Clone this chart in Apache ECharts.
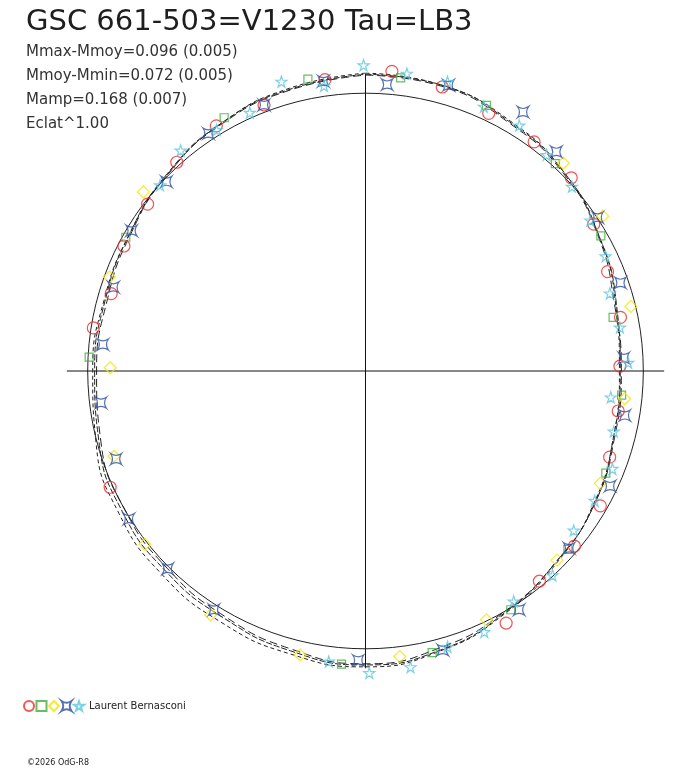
<!DOCTYPE html>
<html>
<head>
<meta charset="utf-8">
<script src="https://cdn.jsdelivr.net/npm/echarts@6/dist/echarts.min.js"></script>
<style>
html, body { margin: 0; padding: 0; background: #fff; }
#chart { width: 688px; height: 768px; }
</style>
</head>
<body>
<div id="chart"></div>
<script>
// phase (0..1, clockwise from top) and relative flux (mean = 1)
var redPhase = [0.014,0.042,0.071,0.101,0.130,0.159,0.188,0.217,0.247,0.275,0.304,0.333,0.361,0.390,0.419,0.682,0.775,0.797,0.826,0.854,0.883,0.913,0.942,0.978];
var redFlux  = [1.083,1.059,1.028,1.024,1.016,0.977,0.942,0.938,0.916,0.921,0.932,0.975,0.981,0.982,1.039,1.010,0.992,0.957,0.979,0.988,1.013,1.033,1.025,1.059];

var greenPhase = [0.019,0.068,0.118,0.167,0.216,0.265,0.314,0.365,0.413,0.463,0.513,0.758,0.831,0.919,0.969];
var greenFlux  = [1.063,1.051,1.012,0.977,0.912,0.926,0.940,0.971,1.006,1.042,1.059,0.996,0.988,1.044,1.071];

var yellowPhase = [0.121,0.158,0.212,0.267,0.321,0.374,0.428,0.481,0.536,0.590,0.644,0.698,0.752,0.806,0.858];
var yellowFlux  = [1.033,1.020,0.983,0.938,0.937,0.969,0.996,1.035,1.049,1.040,1.010,0.956,0.919,0.982,1.027];

var bluePhase = [0.012,0.045,0.087,0.114,0.157,0.197,0.242,0.277,0.320,0.364,0.409,0.457,0.504,0.590,0.625,0.661,0.696,0.731,0.766,0.801,0.836,0.871,0.907,0.942,0.977];
var blueFlux  = [1.034,1.071,1.091,1.046,1.002,0.971,0.931,0.947,0.973,0.972,1.022,1.042,1.042,1.018,1.007,1.005,0.952,0.959,0.950,0.956,0.982,0.989,1.025,1.025,1.054];

var cyanPhase = [0.022,0.044,0.067,0.089,0.111,0.134,0.156,0.179,0.201,0.223,0.245,0.267,0.288,0.310,0.332,0.354,0.382,0.409,0.432,0.454,0.476,0.498,0.520,0.867,0.889,0.912,0.933,0.955,0.977,0.999];
var cyanFlux  = [1.081,1.082,1.043,1.043,1.015,0.996,0.974,0.958,0.923,0.929,0.946,0.888,0.920,0.956,0.948,0.944,0.997,0.986,1.032,1.036,1.078,1.087,1.054,0.997,1.036,1.020,1.019,1.085,1.037,1.101];

// fitted curves, read every 15 degrees of phase
var fitDeg  = [0,15,30,45,60,75,90,105,120,135,150,165,180,195,210,225,240,255,270,285,300,315,330,345,360];
var fitMain = [1.068,1.065,1.036,1.011,0.971,0.935,0.917,0.924,0.953,0.971,1.004,1.040,1.058,1.043,1.025,1.018,1.011,0.993,0.975,0.971,0.982,1.007,1.032,1.050,1.068];
var fitHigh = [1.072,1.065,1.040,1.011,0.971,0.932,0.914,0.924,0.950,0.975,1.007,1.043,1.065,1.054,1.043,1.036,1.025,1.004,0.982,0.975,0.982,1.004,1.032,1.054,1.072];
var fitLow  = [1.065,1.061,1.032,1.007,0.968,0.928,0.921,0.928,0.953,0.971,1.000,1.032,1.054,1.036,1.018,1.007,1.000,0.986,0.968,0.964,0.978,1.004,1.029,1.047,1.065];

var titleText = 'GSC 661-503=V1230 Tau=LB3';
var infoLines = ['Mmax-Mmoy=0.096 (0.005)', 'Mmoy-Mmin=0.072 (0.005)', 'Mamp=0.168 (0.007)', 'Eclat^1.00'];
var observer = 'Laurent Bernasconi';

var chart = echarts.init(document.getElementById('chart'), null, {width: 688, height: 768});

function pts(phase, flux) {
    var out = [];
    for (var i = 0; i < phase.length; i++) out.push([flux[i], phase[i]]);
    return out;
}
function curve(vals) {
    var out = [];
    for (var i = 0; i < fitDeg.length; i++) out.push([vals[i], fitDeg[i] / 360]);
    return out;
}

var STAR4 = 'path://M0,0 Q5,3.5 10,0 Q6.5,5 10,10 Q5,6.5 0,10 Q3.5,5 0,0 Z';
var STAR5 = 'path://M5,0 L6.18,3.62 L10,3.62 L6.91,5.86 L8.09,9.5 L5,7.25 L1.91,9.5 L3.09,5.86 L0,3.62 L3.82,3.62 Z';

function marks(name, phase, flux, symbol, size, color) {
    return {
        name: name, type: 'scatter', coordinateSystem: 'polar',
        symbol: symbol, symbolSize: size, z: 5, silent: true,
        itemStyle: {color: 'rgba(0,0,0,0)', borderColor: color, borderWidth: 1.2},
        data: pts(phase, flux)
    };
}
function fitLine(vals, dash) {
    return {
        type: 'line', coordinateSystem: 'polar', smooth: true, symbol: 'none', silent: true, z: 3,
        lineStyle: {color: '#222', width: 1, type: dash},
        data: curve(vals)
    };
}

var txt = [];
txt.push({type: 'text', x: 26, y: 22.5, style: {text: titleText, font: '29px "DejaVu Sans"', fill: '#1e1e1e', textVerticalAlign: 'middle'}});
for (var k = 0; k < infoLines.length; k++) {
    txt.push({type: 'text', x: 26, y: 51.7 + k * 24.3, style: {text: infoLines[k], font: '15px "DejaVu Sans"', fill: '#333', textVerticalAlign: 'middle'}});
}
txt.push({type: 'text', x: 27, y: 763, style: {text: '©2026 OdG-R8', font: '8px "DejaVu Sans"', fill: '#222', textVerticalAlign: 'middle'}});

var option = {
    backgroundColor: '#fff',
    animation: false,
    polar: {center: [365.5, 371], radius: 555.6},
    angleAxis: {
        type: 'value', min: 0, max: 1, startAngle: 90, clockwise: true,
        axisLine: {show: false}, axisTick: {show: false}, axisLabel: {show: false}, splitLine: {show: false}
    },
    radiusAxis: {
        type: 'value', min: 0, max: 2, interval: 1,
        axisLine: {show: false}, axisTick: {show: false}, axisLabel: {show: false},
        splitLine: {show: true, lineStyle: {color: '#222', width: 1}}
    },
    legend: {
        left: 18, top: 695, itemWidth: 10, itemHeight: 10, itemGap: 0.5, selectedMode: false,
        data: ['circle', 'square', 'diamond', 'star4', observer],
        formatter: function (n) { return n === observer ? observer : ''; },
        textStyle: {fontFamily: 'DejaVu Sans', fontSize: 10, color: '#222'}
    },
    graphic: txt,
    series: [
        {type: 'line', coordinateSystem: 'polar', symbol: 'none', silent: true, z: 1,
         lineStyle: {color: '#111', width: 1}, data: [[1.070, 0], [1.070, 0.5]]},
        {type: 'line', coordinateSystem: 'polar', symbol: 'none', silent: true, z: 1,
         lineStyle: {color: '#111', width: 1}, data: [[1.075, 0.25], [1.075, 0.75]]},
        fitLine(fitHigh, [4, 3]),
        fitLine(fitLow, [8, 4]),
        fitLine(fitMain, [6, 2]),
        marks('circle', redPhase, redFlux, 'circle', 12, '#ee2b2b'),
        marks('square', greenPhase, greenFlux, 'rect', 8, '#3fae3a'),
        marks('diamond', yellowPhase, yellowFlux, 'diamond', 12, '#f2e600'),
        marks('star4', bluePhase, blueFlux, STAR4, 11, '#2d4f9e'),
        marks(observer, cyanPhase, cyanFlux, STAR5, 11, '#5cc6e0')
    ]
};
chart.setOption(option);
</script>
</body>
</html>
